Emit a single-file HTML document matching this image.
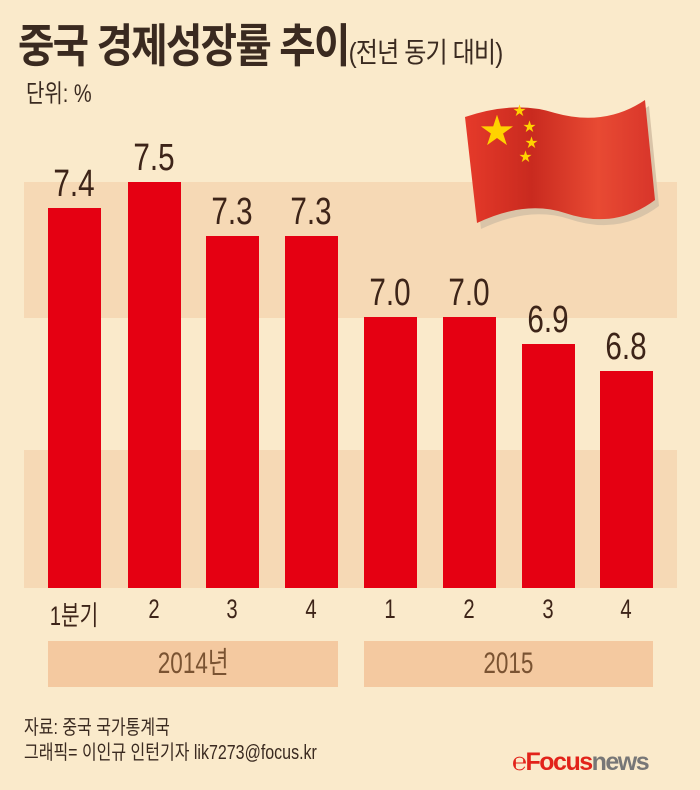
<!DOCTYPE html>
<html><head><meta charset="utf-8"><style>
body{margin:0;width:700px;height:790px;background:#faeacb;position:relative;overflow:hidden;font-family:"Liberation Sans","Noto Sans CJK KR",sans-serif;color:#3a2a20}
.abs{position:absolute}
.band{position:absolute;left:24px;width:653px;background:#f6d9b5}
.bar{position:absolute;width:53px;background:#e50012;bottom:202px}
.val{position:absolute;width:80px;text-align:center;font-size:38px;color:#3d2418;transform:scaleX(0.78);font-family:"Liberation Sans Narrow","Liberation Sans",sans-serif}
.cat{position:absolute;top:594px;width:80px;text-align:center;font-size:27px;transform:scaleX(0.75);color:#3d2418}
.yr{position:absolute;top:641px;height:46px;background:#f4c9a0;text-align:center;line-height:46px;font-size:30px;color:#7a5332}
</style></head><body>
<div class="band" style="top:182px;height:136px"></div>
<div class="band" style="top:450px;height:138px"></div>
<div class="abs" style="left:18px;top:10px;font-size:46px;font-weight:bold;letter-spacing:-2px;transform:scaleX(0.86);transform-origin:left;white-space:nowrap">중국 경제성장률 추이<span style="font-weight:normal;font-size:28px;letter-spacing:-1px">(전년 동기 대비)</span></div>
<div class="abs" style="left:26px;top:74px;font-size:25px;transform:scaleX(0.8);transform-origin:left">단위: %</div>
<svg class="abs" style="left:455px;top:95px" width="215" height="140" viewBox="0 0 215 140">
<defs><linearGradient id="g" x1="0" x2="1"><stop offset="0" stop-color="#e63a2a"/><stop offset="0.35" stop-color="#c92a1f"/><stop offset="0.7" stop-color="#e84a33"/><stop offset="1" stop-color="#d8352a"/></linearGradient></defs>
<path d="M10 22 Q60 5 100 18 Q150 32 190 5 L200 105 Q160 135 110 118 Q70 105 22 128 Z" fill="#d9c4a8" transform="translate(4,6)"/>
<path d="M10 22 Q60 5 100 18 Q150 32 190 5 L200 105 Q160 135 110 118 Q70 105 22 128 Z" fill="url(#g)"/>
<text x="25" y="48" font-size="34" fill="#ffd200">★</text>
<text x="58" y="20" font-size="13" fill="#ffd200">★</text>
<text x="68" y="36" font-size="13" fill="#ffd200">★</text>
<text x="70" y="52" font-size="13" fill="#ffd200">★</text>
<text x="64" y="66" font-size="13" fill="#ffd200">★</text>
</svg>
<div class="bar" style="left:48px;top:208px"></div>
<div class="bar" style="left:128px;top:182px"></div>
<div class="bar" style="left:206px;top:236px"></div>
<div class="bar" style="left:285px;top:236px"></div>
<div class="bar" style="left:364px;top:317px"></div>
<div class="bar" style="left:443px;top:317px"></div>
<div class="bar" style="left:522px;top:344px"></div>
<div class="bar" style="left:600px;top:371px"></div>
<div class="val" style="left:34px;top:163px">7.4</div>
<div class="val" style="left:114px;top:137px">7.5</div>
<div class="val" style="left:192px;top:191px">7.3</div>
<div class="val" style="left:271px;top:191px">7.3</div>
<div class="val" style="left:350px;top:272px">7.0</div>
<div class="val" style="left:429px;top:272px">7.0</div>
<div class="val" style="left:508px;top:299px">6.9</div>
<div class="val" style="left:586px;top:326px">6.8</div>
<div class="cat" style="left:34px">1분기</div>
<div class="cat" style="left:114px">2</div>
<div class="cat" style="left:192px">3</div>
<div class="cat" style="left:271px">4</div>
<div class="cat" style="left:350px">1</div>
<div class="cat" style="left:429px">2</div>
<div class="cat" style="left:508px">3</div>
<div class="cat" style="left:586px">4</div>
<div class="yr" style="left:48px;width:290px"><span style="display:inline-block;transform:scaleX(0.75)">2014년</span></div>
<div class="yr" style="left:364px;width:289px"><span style="display:inline-block;transform:scaleX(0.75)">2015</span></div>
<div class="abs" style="left:24px;top:716px;font-size:20px;line-height:25px;transform:scaleX(0.8);transform-origin:left;white-space:nowrap">자료: 중국 국가통계국<br>그래픽= 이인규 인턴기자 lik7273@focus.kr</div>
<div class="abs" style="left:512px;top:748px;font-size:25px;font-weight:bold;letter-spacing:-1.5px;white-space:nowrap"><span style="color:#e2231a">℮Focus</span><span style="color:#777">news</span></div>
</body></html>
